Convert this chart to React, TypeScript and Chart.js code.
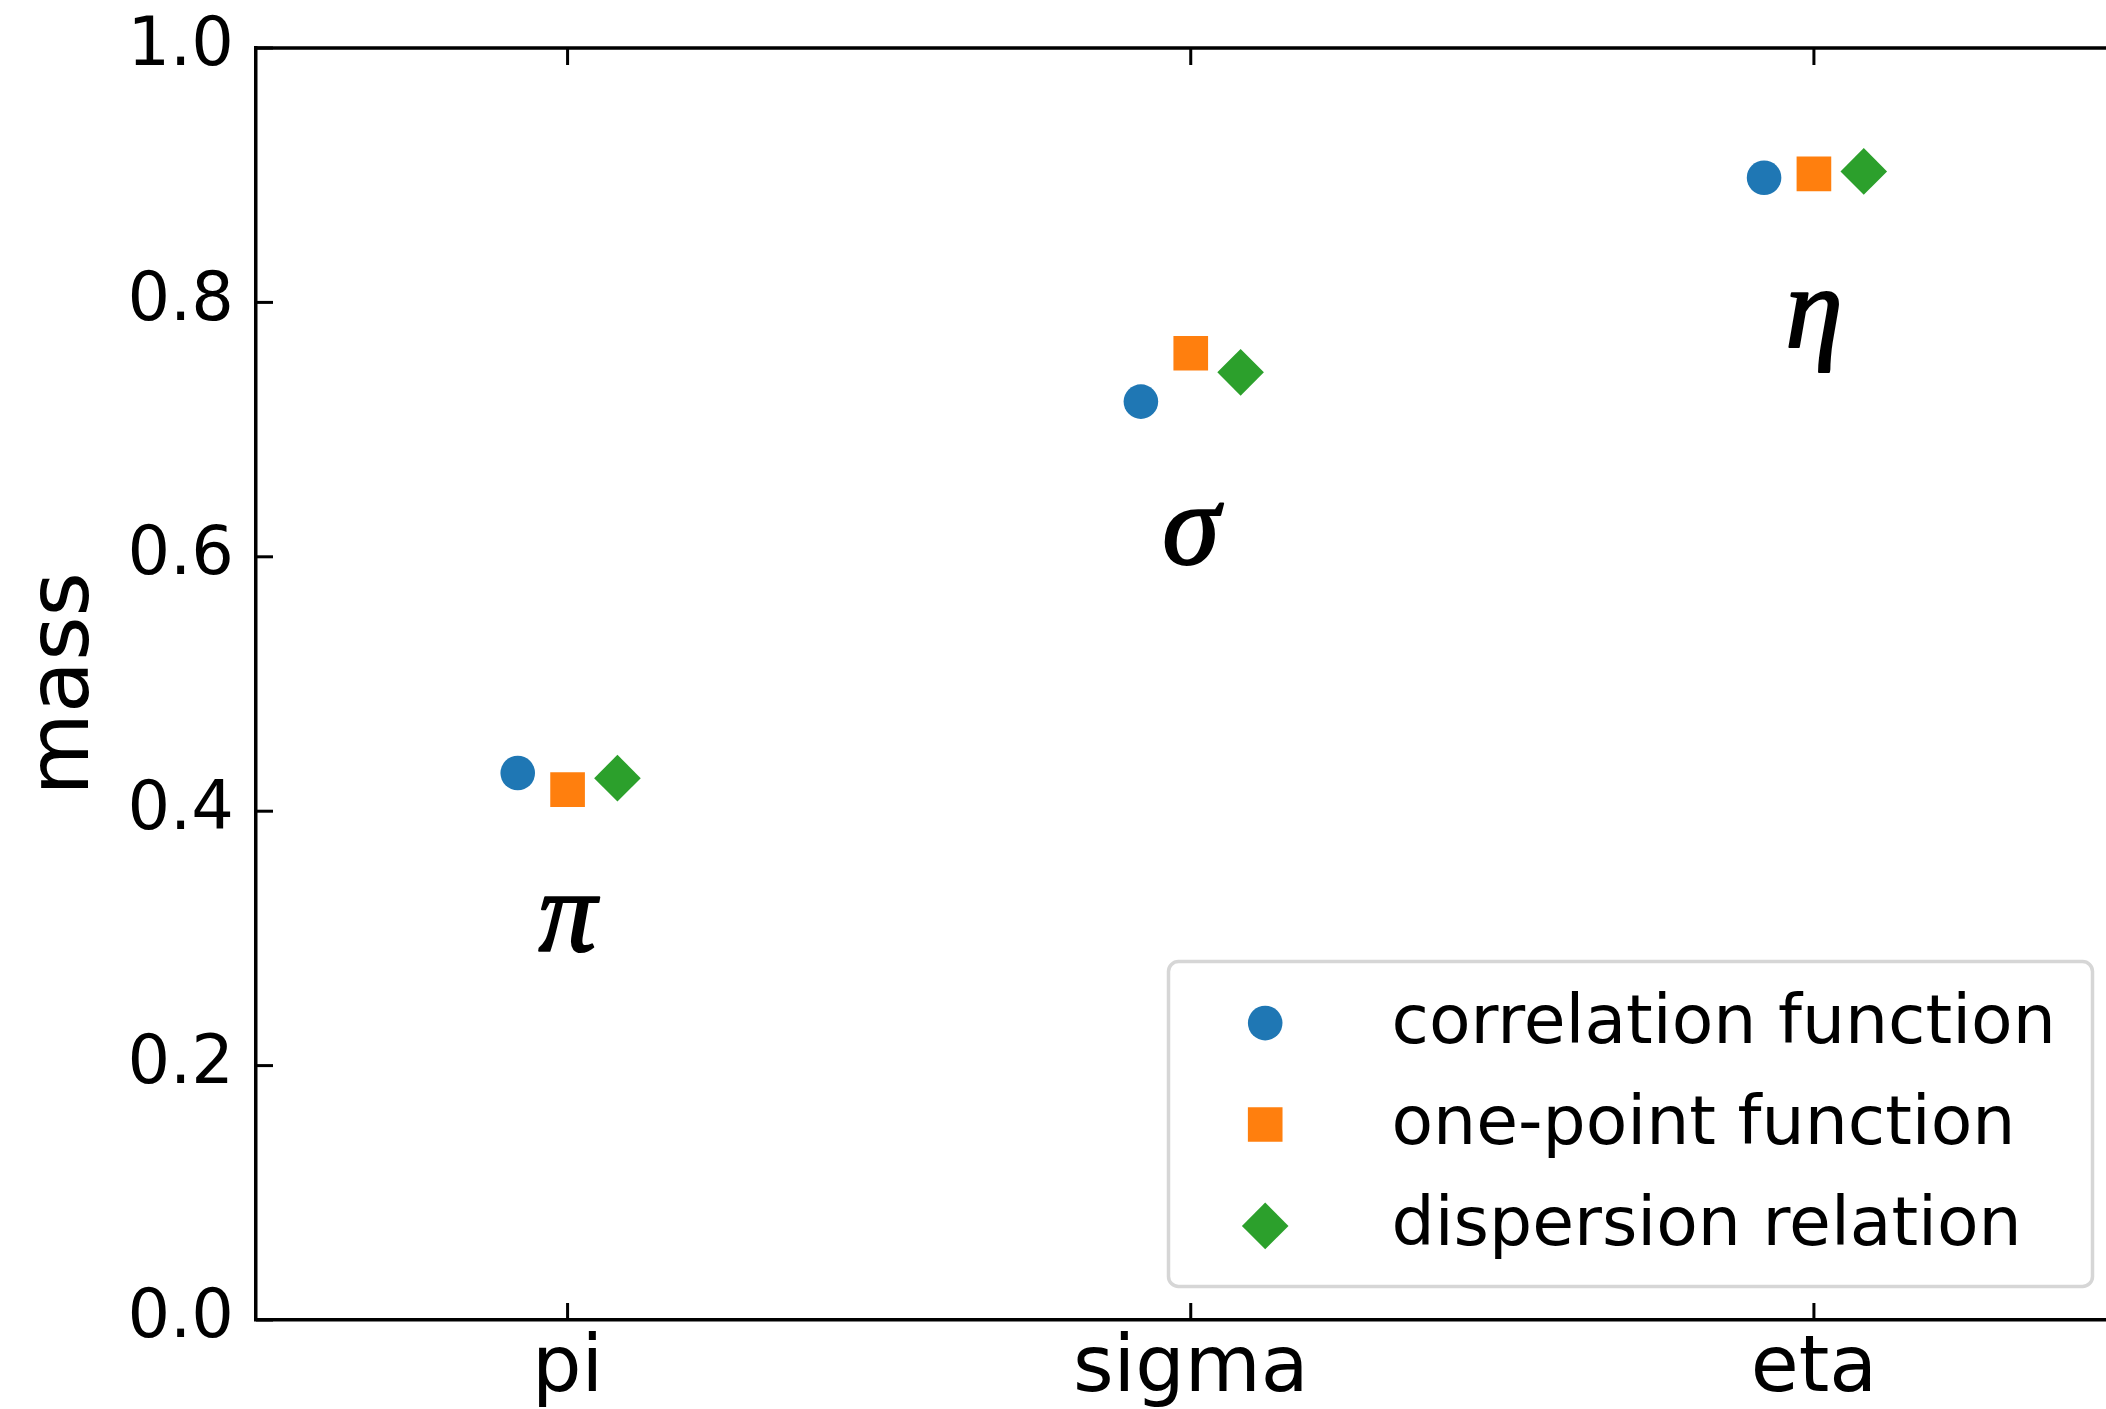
import React, { useEffect, useRef } from 'react';
import { Chart, registerables } from 'chart.js';

Chart.register(...registerables);

// ---- data ----
const categories = ['pi', 'sigma', 'eta'];
const seriesLabels = ['correlation function', 'one-point function', 'dispersion relation'];
const correlationFunction = [0.430, 0.722, 0.898];
const onePointFunction = [0.417, 0.760, 0.901];
const dispersionRelation = [0.426, 0.745, 0.903];
const seriesOffsets = [-0.08, 0, 0.08];
const yTickValues = [0, 0.2, 0.4, 0.6, 0.8, 1.0];
const particleSymbols = ['π', 'σ', 'η'];
const symbolY = [0.290, 0.594, 0.765];

// ---- styles ----
const colors = ['#1f77b4', '#ff7f0e', '#2ca02c'];
const pointStyles = ['circle', 'rect', 'rectRot'];
const pointRadii = [17.3, 24.5, 23.3];
const FONT = '"DejaVu Sans", sans-serif';

function drawMarker(ctx: CanvasRenderingContext2D, style: string, x: number, y: number, r: number) {
  ctx.beginPath();
  if (style === 'circle') {
    ctx.arc(x, y, r, 0, Math.PI * 2);
  } else if (style === 'rect') {
    const s = Math.SQRT1_2 * r;
    ctx.rect(x - s, y - s, 2 * s, 2 * s);
  } else {
    ctx.moveTo(x - r, y);
    ctx.lineTo(x, y - r);
    ctx.lineTo(x + r, y);
    ctx.lineTo(x, y + r);
    ctx.closePath();
  }
  ctx.fill();
}

const framePlugin = {
  id: 'frameAndAnnotations',
  afterDraw(chart: any) {
    const { ctx, chartArea: a, scales } = chart;
    const xs = scales.x;
    const ys = scales.y;
    ctx.save();
    // top spine
    ctx.strokeStyle = '#000';
    ctx.lineWidth = 3.5;
    ctx.beginPath();
    ctx.moveTo(a.left - 1.75, a.top);
    ctx.lineTo(a.right, a.top);
    ctx.stroke();
    // inward ticks
    ctx.lineWidth = 3;
    const tl = 17;
    yTickValues.forEach((v) => {
      const py = ys.getPixelForValue(v);
      ctx.beginPath();
      ctx.moveTo(a.left, py);
      ctx.lineTo(a.left + tl, py);
      ctx.stroke();
    });
    categories.forEach((_, i) => {
      const px = xs.getPixelForValue(i);
      ctx.beginPath();
      ctx.moveTo(px, a.bottom);
      ctx.lineTo(px, a.bottom - tl);
      ctx.moveTo(px, a.top);
      ctx.lineTo(px, a.top + tl);
      ctx.stroke();
    });
    // particle symbols
    ctx.fillStyle = '#000';
    ctx.strokeStyle = '#000';
    ctx.lineWidth = 2;
    ctx.lineJoin = 'round';
    ctx.font = 'italic 116px "Liberation Serif", "DejaVu Serif", serif';
    ctx.textAlign = 'center';
    ctx.textBaseline = 'alphabetic';
    particleSymbols.forEach((s, i) => {
      const px = xs.getPixelForValue(i);
      const py = ys.getPixelForValue(symbolY[i]);
      ctx.fillText(s, px, py);
      ctx.strokeText(s, px, py);
    });
    // legend
    const boxRight = a.right - 13.5;
    const boxBottom = a.bottom - 33.5;
    const boxW = 924;
    const boxH = 325;
    const bx = boxRight - boxW;
    const by = boxBottom - boxH;
    ctx.beginPath();
    (ctx as any).roundRect(bx, by, boxW, boxH, 10);
    ctx.fillStyle = 'rgba(255,255,255,0.8)';
    ctx.fill();
    ctx.lineWidth = 3.5;
    ctx.strokeStyle = '#d6d6d6';
    ctx.stroke();
    const rowY0 = by + 61.6;
    const rowStep = 101.4;
    chart.data.datasets.forEach((ds: any, i: number) => {
      const cy = rowY0 + i * rowStep;
      ctx.fillStyle = ds.backgroundColor;
      drawMarker(ctx, ds.pointStyle, bx + 96.7, cy, ds.pointRadius);
      ctx.fillStyle = '#000';
      ctx.font = `68px ${FONT}`;
      ctx.textAlign = 'left';
      ctx.textBaseline = 'alphabetic';
      ctx.fillText(ds.label, bx + 223, cy + 19.5);
    });
    ctx.restore();
  },
};

export default function App() {
  const ref = useRef<HTMLCanvasElement | null>(null);

  useEffect(() => {
    if (!ref.current) return;
    const seriesValues = [correlationFunction, onePointFunction, dispersionRelation];
    const datasets = seriesValues.map((vals, s) => ({
      label: seriesLabels[s],
      data: vals.map((v, i) => ({ x: i + seriesOffsets[s], y: v })),
      backgroundColor: colors[s],
      borderColor: colors[s],
      pointStyle: pointStyles[s],
      pointRadius: pointRadii[s],
      pointHoverRadius: pointRadii[s],
      pointBorderWidth: 0,
      showLine: false,
    }));

    const chart = new Chart(ref.current, {
      type: 'scatter',
      data: { datasets },
      options: {
        animation: false,
        responsive: false,
        maintainAspectRatio: false,
        events: [],
        layout: { autoPadding: false, padding: { top: 48, left: 0, right: 0, bottom: 0 } },
        plugins: {
          legend: { display: false },
          tooltip: { enabled: false },
        },
        scales: {
          x: {
            type: 'linear',
            min: -0.5,
            max: 2.4687,
            afterBuildTicks: (scale: any) => {
              scale.ticks = categories.map((_, i) => ({ value: i }));
            },
            afterFit: (scale: any) => {
              scale.height = 89;
              scale.paddingLeft = 0;
              scale.paddingRight = 0;
            },
            grid: { display: false, drawTicks: false },
            border: { display: true, color: '#000', width: 3.5 },
            ticks: {
              padding: 4,
              color: '#000',
              font: { family: FONT, size: 78 },
              maxRotation: 0,
              autoSkip: false,
              callback: (v: any) => categories[Math.round(Number(v))] ?? '',
            },
          },
          y: {
            type: 'linear',
            min: 0,
            max: 1,
            afterBuildTicks: (scale: any) => {
              scale.ticks = yTickValues.map((v) => ({ value: v }));
            },
            afterFit: (scale: any) => {
              scale.width = 256;
              scale.paddingTop = 0;
              scale.paddingBottom = 0;
            },
            grid: { display: false, drawTicks: false },
            border: { display: true, color: '#000', width: 3.5 },
            ticks: {
              padding: 22,
              color: '#000',
              font: { family: FONT, size: 67 },
              callback: (v: any) => Number(v).toFixed(1),
            },
            title: {
              display: true,
              text: 'mass',
              color: '#000',
              font: { family: FONT, size: 85 },
              padding: { top: 15, bottom: 0 },
            },
          },
        },
      },
      plugins: [framePlugin],
    });
    return () => chart.destroy();
  }, []);

  return (
    <canvas
      ref={ref}
      width={2106}
      height={1409}
      style={{ position: 'fixed', left: 0, top: 0, width: '2106px', height: '1409px', background: '#fff' }}
    />
  );
}
